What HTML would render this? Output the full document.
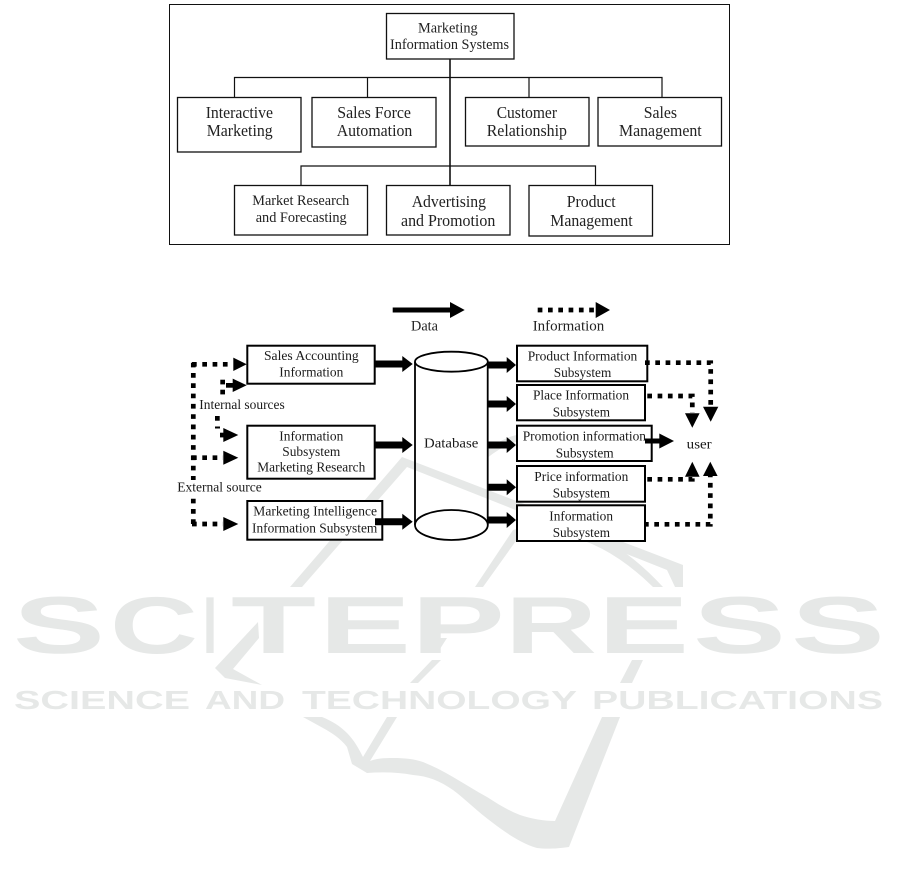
<!DOCTYPE html>
<html>
<head>
<meta charset="utf-8">
<style>
html,body{margin:0;padding:0;background:#fff;width:901px;height:884px;overflow:hidden}
svg{display:block;position:absolute;left:0;top:0}
.t{font-family:"Liberation Serif",serif;font-size:16.5px;fill:#222}
.t2{font-family:"Liberation Serif",serif;font-size:15px;fill:#222}
.s{font-family:"Liberation Serif",serif;font-size:14px;fill:#1a1a1a}
.w{font-family:"Liberation Sans",sans-serif;font-weight:bold;fill:#e6e8e7}
.b1{fill:#fff;stroke:#111;stroke-width:1.3}
.b2{fill:#fff;stroke:#000;stroke-width:2}
.l{stroke:#111;stroke-width:1.2;fill:none}
.d{stroke:#000;stroke-width:4.7;fill:none;stroke-dasharray:4.7 5.6}
</style>
</head>
<body>
<svg width="901" height="884" viewBox="0 0 901 884" xmlns="http://www.w3.org/2000/svg" style="filter:blur(0.3px)">
<!-- watermark -->
<g fill="#e6e8e7">
<polygon points="402,457 683,565 683,587 675,587 667,570 407,467 302,587 290,587"/>
<path d="M475,587 L513,530 Q540,522 567,527 Q615,535 663,587 L653,587 Q610,545 567,536 Q540,532 518,538 L483,587Z"/>
<path d="M487,450 Q505,436 522,434 L522,440 Q505,444 487,458Z"/>
<polygon points="258,622 215,668 225,678 262,685 233,669 259,638"/>
<polygon points="447,638 438,638 429,652 438,652"/>
<polygon points="432,660 441,660 418,683 410,683"/>
<polygon points="632,660 643,660 632,683 620,683"/>
<path d="M602,717 L620,717 L569,847 C555,849 545,849 537,848 C520,843 505,832 493,823 C478,812 465,799 453,790 C440,781 428,776 413,775 C397,772 382,772 367,773 L352,764 L347,747 C340,738 332,733 323,728 L303,717 L322,717 C332,721 340,726 347,733 C354,740 359,749 363,757 L387,717 L397,717 L370,761 C378,758 385,758 393,758 C405,758 414,759 423,762 C433,766 443,771 453,777 C465,784 476,791 487,797 C498,804 509,811 520,815 C532,819 544,821 555,821Z"/>
</g>
<g class="w" font-size="81">
<text x="13" y="653" textLength="92" lengthAdjust="spacingAndGlyphs">S</text>
<text x="110" y="653" textLength="88" lengthAdjust="spacingAndGlyphs">C</text>
<text x="203" y="653" textLength="14" lengthAdjust="spacingAndGlyphs">I</text>
<text x="231" y="653" textLength="85" lengthAdjust="spacingAndGlyphs">T</text>
<text x="319" y="653" textLength="92" lengthAdjust="spacingAndGlyphs">E</text>
<text x="411" y="653" textLength="94" lengthAdjust="spacingAndGlyphs">P</text>
<text x="505" y="653" textLength="92" lengthAdjust="spacingAndGlyphs">R</text>
<text x="598" y="653" textLength="91" lengthAdjust="spacingAndGlyphs">E</text>
<text x="693" y="653" textLength="93" lengthAdjust="spacingAndGlyphs">S</text>
<text x="791" y="653" textLength="94" lengthAdjust="spacingAndGlyphs">S</text>
</g>
<g class="w" font-size="26">
<text x="14" y="709" textLength="176" lengthAdjust="spacingAndGlyphs">SCIENCE</text>
<text x="205" y="709" textLength="80" lengthAdjust="spacingAndGlyphs">AND</text>
<text x="302" y="709" textLength="275" lengthAdjust="spacingAndGlyphs">TECHNOLOGY</text>
<text x="592" y="709" textLength="291" lengthAdjust="spacingAndGlyphs">PUBLICATIONS</text>
</g>

<!-- top diagram -->
<rect x="169.5" y="4.5" width="560" height="240" fill="none" stroke="#111" stroke-width="1"/>
<path class="l" d="M234.5,97V77.5H662V97M367.5,77.5V97M529,77.5V97M301,185V166H595.5V185"/>
<path d="M450,59V185" stroke="#111" stroke-width="1.6"/>
<rect class="b1" x="386.5" y="13.5" width="127.5" height="45.5"/>
<rect class="b1" x="177.5" y="97.5" width="123.5" height="54.5"/>
<rect class="b1" x="312" y="97.5" width="124" height="49.5"/>
<rect class="b1" x="465.5" y="97.5" width="123.5" height="48.5"/>
<rect class="b1" x="598" y="97.5" width="123.5" height="48.5"/>
<rect class="b1" x="234.5" y="185.5" width="133" height="49.5"/>
<rect class="b1" x="386.5" y="185.5" width="123.5" height="49.5"/>
<rect class="b1" x="529" y="185.5" width="123.5" height="50.5"/>
<g class="t2">
<text x="418" y="32.5" textLength="59.7" lengthAdjust="spacingAndGlyphs">Marketing</text>
<text x="390" y="49" textLength="119" lengthAdjust="spacingAndGlyphs">Information Systems</text>
<text x="252.3" y="205" textLength="97" lengthAdjust="spacingAndGlyphs">Market Research</text>
<text x="255.7" y="222" textLength="91" lengthAdjust="spacingAndGlyphs">and Forecasting</text>
</g>
<g class="t">
<text x="205.7" y="118" textLength="67.3" lengthAdjust="spacingAndGlyphs">Interactive</text>
<text x="206.7" y="136" textLength="66" lengthAdjust="spacingAndGlyphs">Marketing</text>
<text x="337.3" y="118" textLength="73.7" lengthAdjust="spacingAndGlyphs">Sales Force</text>
<text x="336.7" y="136" textLength="75.6" lengthAdjust="spacingAndGlyphs">Automation</text>
<text x="496.7" y="118" textLength="60.3" lengthAdjust="spacingAndGlyphs">Customer</text>
<text x="486.7" y="136" textLength="80.3" lengthAdjust="spacingAndGlyphs">Relationship</text>
<text x="643.7" y="118" textLength="33.3" lengthAdjust="spacingAndGlyphs">Sales</text>
<text x="619" y="136" textLength="82.7" lengthAdjust="spacingAndGlyphs">Management</text>
<text x="411.7" y="207" textLength="74.3" lengthAdjust="spacingAndGlyphs">Advertising</text>
<text x="401" y="226" textLength="94.3" lengthAdjust="spacingAndGlyphs">and Promotion</text>
<text x="566.7" y="207" textLength="49" lengthAdjust="spacingAndGlyphs">Product</text>
<text x="550.3" y="226" textLength="82.4" lengthAdjust="spacingAndGlyphs">Management</text>
</g>

<!-- legend -->
<path d="M392.7,307.5H450V302L464.7,310L450,318V312.5H392.7Z" fill="#000"/>
<path class="d" d="M537.7,310H596"/>
<polygon points="595.7,302 610,310 595.7,318" fill="#000"/>
<g class="t2">
<text x="411" y="330.7" textLength="27" lengthAdjust="spacingAndGlyphs">Data</text>
<text x="532.7" y="330.7" textLength="71.6" lengthAdjust="spacingAndGlyphs">Information</text>
</g>

<!-- cylinder: body transparent so the watermark shows through -->
<path d="M415,361.7V525M487.7,361.7V525" fill="none" stroke="#000" stroke-width="1.8"/>
<ellipse cx="451.4" cy="361.7" rx="36.4" ry="10" fill="#fff" stroke="#000" stroke-width="1.8"/>
<ellipse cx="451.4" cy="525" rx="36.4" ry="15" fill="#fff" stroke="#000" stroke-width="1.8"/>

<!-- left boxes -->
<rect class="b2" x="247.3" y="345.7" width="127.4" height="38"/>
<rect class="b2" x="247.3" y="425.7" width="127.4" height="53"/>
<rect class="b2" x="247.3" y="501" width="135" height="38.7"/>
<!-- right boxes -->
<rect class="b2" x="517" y="345.7" width="130.3" height="35.6"/>
<rect class="b2" x="517" y="385" width="128" height="35.3"/>
<rect class="b2" x="517" y="425.7" width="134.7" height="35.3"/>
<rect class="b2" x="517" y="466" width="128" height="35.7"/>
<rect class="b2" x="517" y="505.3" width="128" height="35.7"/>

<g class="s">
<text x="264" y="360" textLength="94.7" lengthAdjust="spacingAndGlyphs">Sales Accounting</text>
<text x="279.3" y="376.7" textLength="64" lengthAdjust="spacingAndGlyphs">Information</text>
<text x="279.3" y="440.3" textLength="64" lengthAdjust="spacingAndGlyphs">Information</text>
<text x="282.3" y="456" textLength="58" lengthAdjust="spacingAndGlyphs">Subsystem</text>
<text x="257.3" y="471.7" textLength="108" lengthAdjust="spacingAndGlyphs">Marketing Research</text>
<text x="253.3" y="515.7" textLength="123.7" lengthAdjust="spacingAndGlyphs">Marketing Intelligence</text>
<text x="252" y="532.3" textLength="125.3" lengthAdjust="spacingAndGlyphs">Information Subsystem</text>
<text x="527.7" y="360.3" textLength="109.6" lengthAdjust="spacingAndGlyphs">Product Information</text>
<text x="553.7" y="377" textLength="57.6" lengthAdjust="spacingAndGlyphs">Subsystem</text>
<text x="533" y="399.7" textLength="96" lengthAdjust="spacingAndGlyphs">Place Information</text>
<text x="552.7" y="416.7" textLength="57.3" lengthAdjust="spacingAndGlyphs">Subsystem</text>
<text x="522.7" y="440.3" textLength="123.3" lengthAdjust="spacingAndGlyphs">Promotion information</text>
<text x="555.7" y="457.3" textLength="58" lengthAdjust="spacingAndGlyphs">Subsystem</text>
<text x="534.3" y="481" textLength="94" lengthAdjust="spacingAndGlyphs">Price information</text>
<text x="552.7" y="497.7" textLength="57.3" lengthAdjust="spacingAndGlyphs">Subsystem</text>
<text x="549.3" y="520.3" textLength="63.7" lengthAdjust="spacingAndGlyphs">Information</text>
<text x="552.7" y="537" textLength="57.3" lengthAdjust="spacingAndGlyphs">Subsystem</text>
<text x="424" y="447.7" textLength="54.3" lengthAdjust="spacingAndGlyphs">Database</text>
<text x="686.7" y="448.3" textLength="25" lengthAdjust="spacingAndGlyphs">user</text>
<text x="199.3" y="409" textLength="85.4" lengthAdjust="spacingAndGlyphs">Internal sources</text>
<text x="177.3" y="491.7" textLength="84.4" lengthAdjust="spacingAndGlyphs">External source</text>
</g>

<!-- solid arrows -->
<g fill="#000">
<path d="M374.7,360.5H402.3V356L412.7,364L402.3,372V367.5H374.7Z"/>
<path d="M374.7,441.5H402.3V437L412.7,445L402.3,453V448.5H374.7Z"/>
<path d="M375,518.2H402.3V513.7L412.7,521.7L402.3,529.7V525.2H375Z"/>
<path d="M487.7,361.5H506.7V357L516,365L506.7,373V368.5H487.7Z"/>
<path d="M487.7,400.5H506.7V396L516,404L506.7,412V407.5H487.7Z"/>
<path d="M487.7,441.5H506.7V437L516,445L506.7,453V448.5H487.7Z"/>
<path d="M487.7,483.8H506.7V479.3L516,487.3L506.7,495.3V490.8H487.7Z"/>
<path d="M487.7,516.5H506.7V512L516,520L506.7,528V523.5H487.7Z"/>
<path d="M645,438.5H659.3V433.5L674,441L659.3,448.5V443.5H645Z"/>
</g>

<!-- right dotted -->
<path class="d" d="M645,362.7H710.7V408"/>
<polygon points="703,406.7 718.3,406.7 710.7,421.7" fill="#000"/>
<path class="d" d="M647.3,396H692.3V413"/>
<polygon points="685,413.3 699.6,413.3 692.3,427.7" fill="#000"/>
<path class="d" d="M647.3,479.3H692.3V476"/>
<polygon points="685,476.7 699.6,476.7 692.3,461.7" fill="#000"/>
<path class="d" d="M644,524.3H710.3V476"/>
<polygon points="703,476 717.6,476 710.3,461.7" fill="#000"/>

<!-- left dotted -->
<path class="d" d="M193.3,362.7V480"/>
<path class="d" d="M192,364.3H233"/>
<path class="d" d="M192,457.7H223"/>
<path class="d" d="M193.3,498.7V524"/>
<path class="d" d="M192,524H223"/>
<g fill="#000">
<polygon points="233.3,357.6 246.7,364.3 233.3,371"/>
<polygon points="232.7,378.6 246.7,385.3 232.7,392"/>
<rect x="220.3" y="379.7" width="4.7" height="4.7"/>
<rect x="220.3" y="389.7" width="4.7" height="4.7"/>
<rect x="226" y="383" width="7" height="4.7"/>
<rect x="215" y="416" width="4.7" height="4.7"/>
<rect x="215" y="426.5" width="5" height="2"/>
<rect x="220" y="432.7" width="5" height="4.7"/>
<polygon points="223.3,428 238.3,435 223.3,442"/>
<polygon points="223.3,450.7 238.3,457.7 223.3,464.7"/>
<polygon points="223.3,517 238.3,524 223.3,531"/>
</g>
</svg>
</body>
</html>
